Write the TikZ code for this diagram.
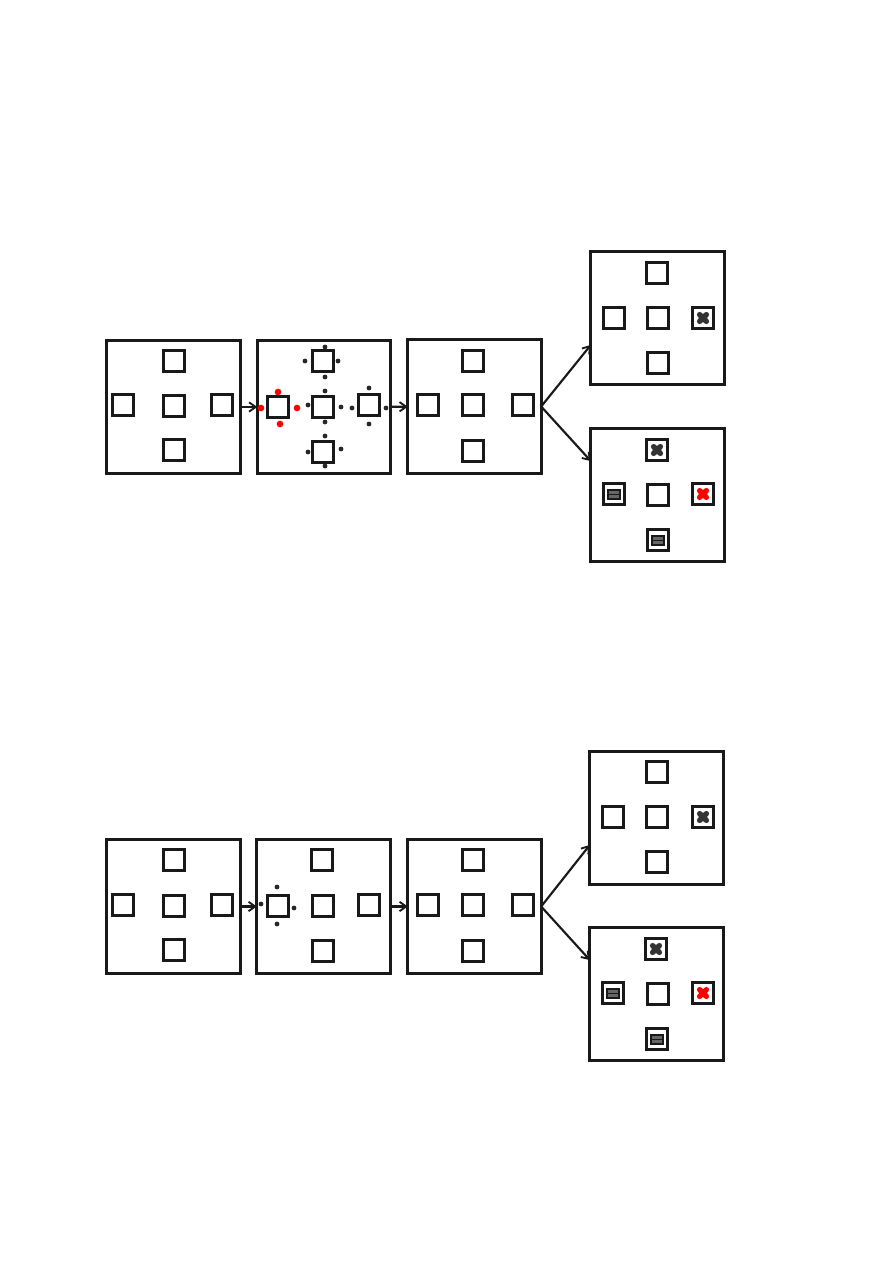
\documentclass[tikz,border=0pt]{standalone}
\usetikzlibrary{arrows.meta}
\tikzset{
  framebox/.style={draw=black!90,line width=2.1pt,fill=white,minimum size=100pt,inner sep=0pt,outer sep=0pt},
  cellbox/.style={draw=black!90,line width=1.8pt,fill=white,minimum size=16pt,inner sep=0pt,outer sep=0pt},
  dotk/.style={circle,fill=black!85,minimum size=3.6pt,inner sep=0pt},
  dotr/.style={circle,fill=red,minimum size=5pt,inner sep=0pt},
  barmark/.style={draw=black!90,fill=black!60,line width=1.5pt,minimum width=8.5pt,minimum height=6.8pt,inner sep=0pt,path picture={\draw[black!90,line width=1pt] (path picture bounding box.west) -- (path picture bounding box.east);}},
  link/.style={draw=black!90,line width=1.6pt,-{Straight Barb[length=5pt,width=7pt,line width=1.4pt]}},
  crossline/.style={line width=4pt,line cap=round}
}
\newcommand{\crossat}[3]{%
  \draw[crossline,draw=#3] (#1-3.4,#2-3.4) -- (#1+3.4,#2+3.4);
  \draw[crossline,draw=#3] (#1-3.4,#2+3.4) -- (#1+3.4,#2-3.4);
}
\newcommand{\cellsof}[1]{%
  \foreach \nm/\cx/\cy in {#1} { \node[cellbox] (\nm) at (\cx,\cy) {}; }
}
\newcommand{\dotsof}[2]{%
  \foreach \nm/\cx/\cy in {#2} { \node[#1] (\nm) at (\cx,\cy) {}; }
}
\begin{document}
\begin{tikzpicture}[x=0.75pt,y=-0.75pt]
\useasboundingbox (0,0) rectangle (893,1263);
\fill[white] (0,0) rectangle (893,1263);
% top group
\node[framebox] (ta) at (173.5,407) {};
\node[framebox] (tb) at (324,407) {};
\node[framebox] (tc) at (474.5,406.5) {};
\node[framebox] (td) at (657.5,318) {};
\node[framebox] (te) at (657.5,495) {};
\cellsof{ta1/174/361,ta2/123/405,ta3/174/406,ta4/222/405,ta5/174/450}
\cellsof{tb1/323/361,tb2/278/407,tb3/323/407,tb4/369/405,tb5/323/452}
\cellsof{tc1/473/361,tc2/428/405,tc3/473/405,tc4/523/405,tc5/473/451}
\cellsof{td1/657/273,td2/614/318,td3/658/318,td4/703/318,td5/658/363}
\cellsof{te1/657/450,te2/614/494,te3/658/495,te4/703/494,te5/658/540}
\dotsof{dotk}{p1/325/347,p2/305/361,p3/338/361,p4/325/377,p5/325/391,p6/308/405,p7/341/407,p8/325/422,p9/369/388,p10/352/408,p11/386/408,p12/369/424,p13/325/436,p14/308/452,p15/341/449,p16/325/466}
\dotsof{dotr}{r1/278/392,r2/261/408,r3/297/408,r4/280/424}
\crossat{703}{318}{black!80}
\crossat{657}{450}{black!80}
\crossat{703}{494}{red}
\node[barmark] (tm1) at (614,494.5) {};
\node[barmark] (tm2) at (658,540.5) {};
\draw[link] (ta) -- (tb);
\draw[link] (tb) -- (tc);
\draw[link] (tc.east) -- (td.202);
\draw[link] (tc.east) -- (te.153);
% bottom group
\node[framebox] (ba) at (173.5,906.5) {};
\node[framebox] (bb) at (323.5,906.5) {};
\node[framebox] (bc) at (474.5,906.5) {};
\node[framebox] (bd) at (656.5,818) {};
\node[framebox] (be) at (656.5,994) {};
\cellsof{ba1/174/860,ba2/123/905,ba3/174/906,ba4/222/905,ba5/174/950}
\cellsof{bb1/322/860,bb2/278/906,bb3/323/906,bb4/369/905,bb5/323/951}
\cellsof{bc1/473/860,bc2/428/905,bc3/473/905,bc4/523/905,bc5/473/951}
\cellsof{bd1/657/772,bd2/613/817,bd3/657/817,bd4/703/817,bd5/657/862}
\cellsof{be1/656/949,be2/613/993,be3/658/994,be4/703/993,be5/657/1039}
\dotsof{dotk}{q1/277/887,q2/261/904,q3/294/908,q4/277/924}
\crossat{703}{817}{black!80}
\crossat{656}{949}{black!80}
\crossat{703}{993}{red}
\node[barmark] (bm1) at (613,993.5) {};
\node[barmark] (bm2) at (657,1039.5) {};
\draw[link] (ba) -- (bb);
\draw[link] (bb) -- (bc);
\draw[link] (bc.east) -- (bd.202);
\draw[link] (bc.east) -- (be.153);
\end{tikzpicture}
\end{document}
